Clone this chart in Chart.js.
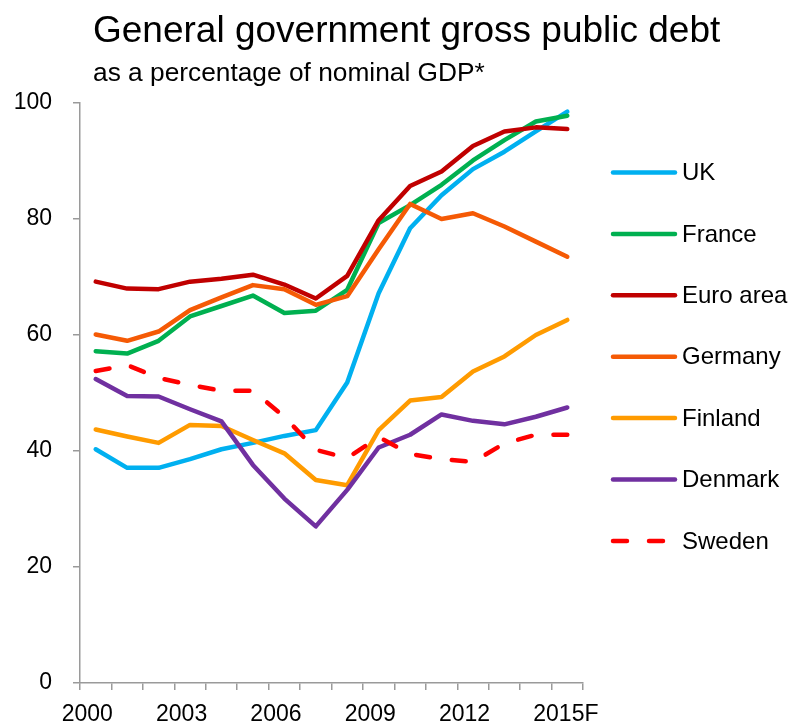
<!DOCTYPE html>
<html>
<head>
<meta charset="utf-8">
<script src="https://cdn.jsdelivr.net/npm/chart.js@4.4.1/dist/chart.umd.min.js"></script>
<style>
  body { margin: 0; background: #fff; }
  #wrap { position: relative; width: 791px; height: 728px; }
  .title { position: absolute; left: 93px; font-family: "Liberation Sans", Arial, sans-serif; color: #000; white-space: nowrap; }
  #t1 { top: 11px; font-size: 37px; line-height: 37px; }
  #t2 { top: 59px; font-size: 26.3px; line-height: 26.3px; }
  canvas { position: absolute; left: 0; top: 0; }
</style>
</head>
<body>
<div id="wrap">
  <canvas id="debtChart" width="791" height="728"></canvas>
  <div class="title" id="t1">General government gross public debt</div>
  <div class="title" id="t2">as a percentage of nominal GDP*</div>
</div>
<script>
const years = ['2000', '2001', '2002', '2003', '2004', '2005', '2006', '2007',
  '2008', '2009', '2010', '2011', '2012', '2013', '2014', '2015F'];

const uk = [40.3, 37.1, 37.1, 38.6, 40.3, 41.4, 42.6, 43.6, 51.8, 67.2, 78.4, 84.1, 88.6, 91.6, 95.1, 98.5];
const france = [57.2, 56.8, 59.0, 63.2, 65.0, 66.8, 63.8, 64.2, 67.8, 79.3, 82.4, 85.9, 90.1, 93.6, 96.8, 97.8];
const euroArea = [69.2, 68.0, 67.9, 69.2, 69.7, 70.4, 68.7, 66.3, 70.2, 79.8, 85.7, 88.2, 92.6, 95.1, 95.8, 95.5];
const germany = [60.1, 59.0, 60.6, 64.3, 66.5, 68.6, 67.9, 65.2, 66.7, 74.8, 82.6, 80.0, 81.0, 78.7, 76.1, 73.5];
const finland = [43.7, 42.5, 41.4, 44.5, 44.3, 41.9, 39.6, 35.0, 34.1, 43.6, 48.7, 49.3, 53.7, 56.3, 60.0, 62.6];
const denmark = [52.4, 49.5, 49.4, 47.2, 45.1, 37.6, 31.8, 27.0, 33.3, 40.6, 42.8, 46.3, 45.2, 44.6, 45.9, 47.5];
const sweden = [53.8, 54.8, 52.6, 51.4, 50.4, 50.4, 45.9, 40.2, 38.8, 42.4, 39.5, 38.6, 38.1, 41.3, 42.8, 42.8];

const yTicks = [0, 20, 40, 60, 80, 100];

const FONT = '"Liberation Sans", Arial, sans-serif';
const AXIS_GREY = '#9a9a9a';

function series(label, data, color, order, dash) {
  return {
    label,
    data,
    borderColor: color,
    backgroundColor: color,
    borderWidth: 4.5,
    borderDash: dash || [],
    borderCapStyle: 'round',
    borderJoinStyle: 'round',
    pointRadius: 0,
    pointHoverRadius: 0,
    tension: 0,
    fill: false,
    order,
  };
}

// legend drawn by hand so it sits where the original puts it
const sideLegend = {
  id: 'sideLegend',
  afterDraw(chart) {
    const { ctx } = chart;
    ctx.save();
    chart.data.datasets.forEach((ds, i) => {
      const y = 172.5 + i * 61.4;
      ctx.beginPath();
      ctx.setLineDash(ds.borderDash);
      ctx.lineCap = 'round';
      ctx.lineWidth = 4.5;
      ctx.strokeStyle = ds.borderColor;
      ctx.moveTo(613, y);
      ctx.lineTo(675, y);
      ctx.stroke();
      ctx.setLineDash([]);
      ctx.fillStyle = '#000';
      ctx.font = '24px ' + FONT;
      ctx.textBaseline = 'middle';
      ctx.fillText(ds.label, 682, y + 1);
    });
    ctx.restore();
  },
};

new Chart(document.getElementById('debtChart').getContext('2d'), {
  type: 'line',
  data: {
    labels: years,
    datasets: [
      series('UK', uk, '#00b0f0', 6),
      series('France', france, '#00b050', 5),
      series('Euro area', euroArea, '#c00000', 4),
      series('Germany', germany, '#f55a05', 3),
      series('Finland', finland, '#ff9b00', 2),
      series('Denmark', denmark, '#7030a0', 1),
      series('Sweden', sweden, '#ff0000', 0, [14, 22]),
    ],
  },
  options: {
    responsive: false,
    animation: false,
    layout: { padding: { left: 14, right: 208, top: 103, bottom: 0 } },
    plugins: {
      legend: { display: false },
      title: { display: false },
      tooltip: { enabled: false },
    },
    scales: {
      x: {
        type: 'category',
        offset: true,
        grid: {
          offset: true,
          drawOnChartArea: false,
          drawTicks: true,
          tickLength: 7,
          color: AXIS_GREY,
          lineWidth: 1.5,
        },
        border: { display: true, color: AXIS_GREY, width: 1.5 },
        ticks: {
          autoSkip: false,
          maxRotation: 0,
          minRotation: 0,
          align: 'start',
          labelOffset: -34,
          padding: 11,
          color: '#000',
          font: { family: FONT, size: 23 },
          callback: (val, i) => (i % 3 === 0 ? years[i] : ''),
        },
        afterFit: (scale) => { scale.height = 45; },
      },
      y: {
        min: 0,
        max: 100,
        afterBuildTicks: (scale) => { scale.ticks = yTicks.map((v) => ({ value: v })); },
        grid: {
          drawOnChartArea: false,
          drawTicks: true,
          tickLength: 7,
          color: AXIS_GREY,
          lineWidth: 1.5,
        },
        border: { display: true, color: AXIS_GREY, width: 1.5 },
        ticks: {
          padding: 21,
          color: '#000',
          font: { family: FONT, size: 23 },
        },
        afterFit: (scale) => { scale.width = 66; },
      },
    },
  },
  plugins: [sideLegend],
});
</script>
</body>
</html>
